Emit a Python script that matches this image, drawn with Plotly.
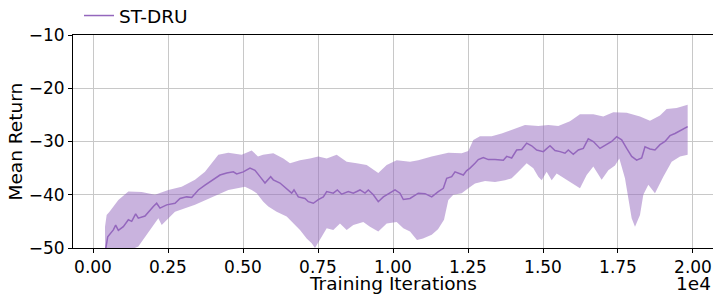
import plotly.graph_objects as go

# ---- data (training iterations, mean return) ----
mean_iters = [400, 490, 678, 755, 845, 1010, 1178, 1290, 1422, 1510, 1733, 1845, 2010, 2122, 2233,
              2456, 2733, 2900, 3122, 3290, 3510, 3733, 4010, 4233, 4456, 4677, 4790, 5010, 5233,
              5400, 5567, 5733, 5922, 6010, 6233, 6456, 6622, 6700, 6844, 7067, 7178, 7344, 7510,
              7678, 7790, 8010, 8144, 8290, 8510, 8677, 8900, 9067, 9178, 9344, 9510, 9678, 9900,
              10067, 10233, 10344, 10567, 10844, 11067, 11290, 11510, 11678, 11790, 11956, 12067,
              12233, 12344, 12450, 12567, 12733, 12844, 13010, 13178, 13400, 13678, 13790, 13956,
              14122, 14290, 14456, 14622, 14790, 15010, 15233, 15400, 15567, 15733, 15844, 16010,
              16178, 16344, 16510, 16678, 16900, 17122, 17290, 17456, 17622, 17790, 17956, 18122,
              18290, 18400, 18567, 18733, 18900, 19067, 19233, 19400, 19567, 19822]
mean_return = [-51.0, -47.9, -46.6, -45.7, -46.7, -46.0, -44.7, -45.0, -43.6, -44.4, -44.0, -43.2,
               -42.2, -41.6, -42.5, -41.9, -41.6, -40.7, -40.4, -40.5, -39.1, -38.2, -37.1, -36.3,
               -35.9, -35.7, -36.1, -35.7, -35.0, -35.4, -36.6, -37.8, -36.6, -37.2, -37.8, -38.8,
               -39.7, -39.1, -40.4, -40.7, -41.3, -41.6, -40.9, -40.4, -39.4, -39.7, -39.1, -39.9,
               -39.4, -39.7, -39.1, -39.7, -39.1, -40.0, -41.3, -40.4, -39.7, -39.1, -39.7, -40.9,
               -40.7, -39.7, -39.8, -40.4, -39.4, -38.8, -36.9, -36.6, -35.7, -36.0, -36.3, -35.5,
               -35.0, -34.1, -33.4, -33.0, -33.4, -33.4, -33.5, -32.8, -33.1, -31.6, -31.5, -30.3,
               -30.8, -31.6, -31.9, -30.8, -31.7, -31.9, -32.2, -31.6, -32.4, -31.6, -31.3, -29.5,
               -30.0, -31.3, -30.6, -30.0, -29.1, -29.7, -31.3, -32.8, -33.5, -33.1, -31.0, -31.4,
               -31.6, -30.6, -30.0, -28.9, -28.5, -28.0, -27.2]

upper_iters = [400, 455, 550, 845, 1178, 1623, 2067, 2511, 2955, 3400, 3733, 3956, 4178, 4510, 4956,
               5290, 5500, 5667, 6010, 6344, 6567, 6900, 7233, 7510, 7790, 8122, 8456, 8790, 9122,
               9510, 9790, 10122, 10567, 10844, 11290, 11844, 12290, 12510, 12678, 12900, 13290,
               13622, 13956, 14400, 14844, 15178, 15510, 15900, 16233, 16678, 17010, 17344, 17790,
               18233, 18567, 18900, 19122, 19456, 19822]
upper_band = [-46.0, -43.8, -43.2, -41.0, -39.4, -39.5, -40.0, -39.1, -38.5, -37.2, -35.7, -34.1,
              -32.5, -32.1, -32.5, -31.7, -32.8, -32.5, -32.2, -33.2, -34.1, -33.5, -33.2, -32.8,
              -33.2, -32.5, -33.8, -34.1, -34.4, -35.9, -34.4, -33.5, -33.8, -33.5, -32.8, -32.1,
              -32.2, -31.8, -29.7, -29.0, -29.0, -28.5, -27.8, -26.9, -27.1, -26.9, -27.1, -26.2,
              -24.9, -24.9, -25.3, -24.5, -24.6, -25.3, -26.1, -25.1, -23.9, -23.7, -23.1]

lower_iters = [400, 600, 900, 1200, 1510, 1733, 2178, 2289, 2733, 3400, 3843, 4510, 5067, 5290, 5456,
               5678, 5844, 6122, 6456, 6678, 6900, 7122, 7290, 7400, 7567, 7790, 8010, 8233, 8456,
               8677, 9010, 9233, 9510, 9790, 10122, 10344, 10567, 10800, 11000, 11290, 11500, 11700,
               11844, 12010, 12290, 12510, 12733, 13067, 13400, 13733, 13956, 14178, 14456, 14678,
               14844, 14956, 15122, 15290, 15456, 15622, 15956, 16233, 16456, 16678, 16956, 17178,
               17400, 17545, 17733, 17844, 17956, 18067, 18233, 18344, 18511, 18733, 19010, 19289,
               19567, 19822]
lower_band = [-57.0, -53.0, -51.0, -50.5, -49.7, -47.9, -44.4, -45.7, -43.2, -41.9, -40.7, -39.1,
              -38.5, -39.1, -39.7, -41.3, -42.2, -43.2, -44.1, -45.4, -46.6, -48.2, -49.1, -50.0,
              -48.5, -46.3, -46.6, -45.4, -46.6, -45.7, -45.1, -46.0, -46.9, -45.4, -45.1, -46.3,
              -46.9, -48.5, -48.2, -47.5, -46.5, -44.7, -41.0, -40.0, -39.7, -38.8, -37.9, -37.4,
              -37.6, -37.3, -36.9, -35.7, -34.1, -35.0, -36.6, -37.3, -35.7, -37.3, -36.0, -36.6,
              -37.8, -38.8, -36.3, -34.7, -37.2, -35.4, -34.5, -33.2, -36.9, -40.7, -44.4, -46.0,
              -43.8, -40.0, -38.1, -39.7, -36.6, -33.8, -32.8, -32.5]

x_tickvals = [0, 2500, 5000, 7500, 10000, 12500, 15000, 17500, 20000]
x_ticktext = ["0.00", "0.25", "0.50", "0.75", "1.00", "1.25", "1.50", "1.75", "2.00"]
y_tickvals = [-50, -40, -30, -20, -10]
y_ticktext = ["\u221250", "\u221240", "\u221230", "\u221220", "\u221210"]

purple = "#9467bd"
band_fill = "rgba(148,103,189,0.5)"
font_family = "DejaVu Sans"
tick_fs = 17
label_fs = 18.5

band_x = upper_iters + lower_iters[::-1]
band_y = upper_band + lower_band[::-1]

fig = go.Figure()
fig.add_trace(go.Scatter(x=band_x, y=band_y, mode="lines", line=dict(width=0),
                         fill="toself", fillcolor=band_fill,
                         showlegend=False, hoverinfo="skip"))
fig.add_trace(go.Scatter(x=mean_iters, y=mean_return, mode="lines", name="ST-DRU",
                         line=dict(color=purple, width=1.5)))

fig.update_layout(
    width=713, height=296,
    margin=dict(l=73, r=0, t=35, b=48, autoexpand=False),
    paper_bgcolor="white", plot_bgcolor="white",
    font=dict(family=font_family, size=tick_fs, color="black"),
    showlegend=True,
    legend=dict(orientation="h", x=6 / 640, y=1.0 + 38 / 213, xanchor="left", yanchor="top",
                font=dict(size=label_fs), bgcolor="rgba(0,0,0,0)"),
    xaxis=dict(range=[-667, 20667], tickvals=x_tickvals, ticktext=x_ticktext,
               showgrid=True, gridcolor="#c8c8c8", gridwidth=1,
               showline=True, linecolor="black", linewidth=1, mirror=True,
               ticks="outside", ticklen=4, tickcolor="black", automargin=False,
               tickfont=dict(size=tick_fs), zeroline=False),
    yaxis=dict(range=[-50, -10], tickvals=y_tickvals, ticktext=y_ticktext,
               showgrid=True, gridcolor="#c8c8c8", gridwidth=1,
               showline=True, linecolor="black", linewidth=1,
               ticks="outside", ticklen=4, tickcolor="black", automargin=False,
               tickfont=dict(size=tick_fs), zeroline=False),
    annotations=[
        dict(text="Training Iterations", xref="paper", yref="paper", x=0.5, y=0,
             xshift=0, yshift=-35, xanchor="center", yanchor="middle", showarrow=False,
             font=dict(size=label_fs)),
        dict(text="Mean Return", xref="paper", yref="paper", x=0, y=0.5, xshift=-58,
             xanchor="center", yanchor="middle", textangle=-90, showarrow=False,
             font=dict(size=label_fs)),
        dict(text="1e4", xref="paper", yref="paper", x=1.0, y=0, yshift=-35,
             xanchor="right", yanchor="middle", showarrow=False, font=dict(size=label_fs)),
    ],
)

fig.write_html("out.html", config={"displayModeBar": False},
               post_script="document.body.style.margin='0';document.body.style.overflow='hidden';")
